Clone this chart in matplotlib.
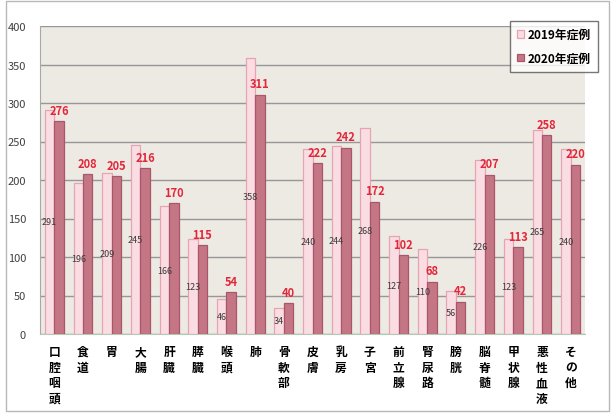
import matplotlib
matplotlib.use("Agg")
import matplotlib.pyplot as plt
import numpy as np
from matplotlib.patches import Rectangle

plt.rcParams['font.family'] = ['Noto Sans CJK JP', 'DejaVu Sans']

categories = ['口腔咽頭', '食道', '胃', '大腸', '肝臓', '膵臓', '喉頭', '肺', '骨軟部',
              '皮膚', '乳房', '子宮', '前立腺', '腎尿路', '膀胱', '脳脊髄', '甲状腺',
              '悪性血液', 'その他']
cases_2019 = [291, 196, 209, 245, 166, 123, 46, 358, 34, 240, 244, 268, 127, 110,
              56, 226, 123, 265, 240]
cases_2020 = [276, 208, 205, 216, 170, 115, 54, 311, 40, 222, 242, 172, 102, 68,
              42, 207, 113, 258, 220]
series_names = ['2019年症例', '2020年症例']
yticks = [0, 50, 100, 150, 200, 250, 300, 350, 400]

W, H = 611, 414
fig = plt.figure(figsize=(W / 100, H / 100), dpi=100)
fig.patch.set_facecolor('white')

# outer chart frame
fig.add_artist(Rectangle((6 / W, 2 / H), 603 / W, 410 / H, transform=fig.transFigure,
                         fill=False, edgecolor='#B8B8B8', linewidth=1.0))

ax = fig.add_axes([40 / W, (H - 335) / H, 545 / W, 308 / H])
ax.set_facecolor('#EDEAE3')

x = np.arange(len(categories))
bw = 0.33
b19 = ax.bar(x - bw / 2, cases_2019, width=bw, color='#FADDE3', edgecolor='#E6A3B2',
             linewidth=0.9, label=series_names[0], zorder=3)
b20 = ax.bar(x + bw / 2, cases_2020, width=bw, color='#C57685', edgecolor='#A9566A',
             linewidth=0.9, label=series_names[1], zorder=3)

# 2019 values sit mid-bar, 2020 values above the bar
for xi, v in zip(x - bw / 2, cases_2019):
    ax.text(xi, v / 2, str(v), ha='center', va='center', fontsize=6.5,
            color='#3A3A3A', zorder=5)
for xi, v in zip(x + bw / 2, cases_2020):
    ax.annotate(str(v), (xi, v), xytext=(0, 3), textcoords='offset points',
                ha='center', va='bottom', fontsize=8, fontweight='bold',
                color='#E3263A', zorder=5)

ax.set_xlim(-0.5, len(categories) - 0.5)
ax.set_ylim(0, 400)
ax.set_yticks(yticks)
ax.set_yticklabels([str(t) for t in yticks], fontsize=8, color='#404040')
ax.set_xticks(x)
ax.set_xticklabels(['\n'.join(c) for c in categories], fontsize=8.5,
                   fontweight='bold', linespacing=1.25, va='top')
ax.tick_params(axis='both', length=0)
ax.tick_params(axis='y', pad=10)
ax.tick_params(axis='x', pad=8)

ax.grid(axis='y', color='#979797', linewidth=1.0, zorder=1)
ax.set_axisbelow(True)
for side in ['top', 'right']:
    ax.spines[side].set_visible(False)
ax.spines['left'].set_color('#A8A8A8')
ax.spines['bottom'].set_color('#B5C8B5')

leg = fig.legend(handles=[b19, b20], labels=series_names, loc='upper right',
                 bbox_to_anchor=(604 / W, 1 - 16 / H), fontsize=8.5,
                 frameon=True, fancybox=False, edgecolor='#555555',
                 handlelength=0.6, handleheight=0.6, handletextpad=0.3,
                 borderpad=0.6, labelspacing=0.9)
leg.get_frame().set_linewidth(1.0)
for t in leg.get_texts():
    t.set_fontweight('bold')

fig.savefig('out.png', dpi=100)
